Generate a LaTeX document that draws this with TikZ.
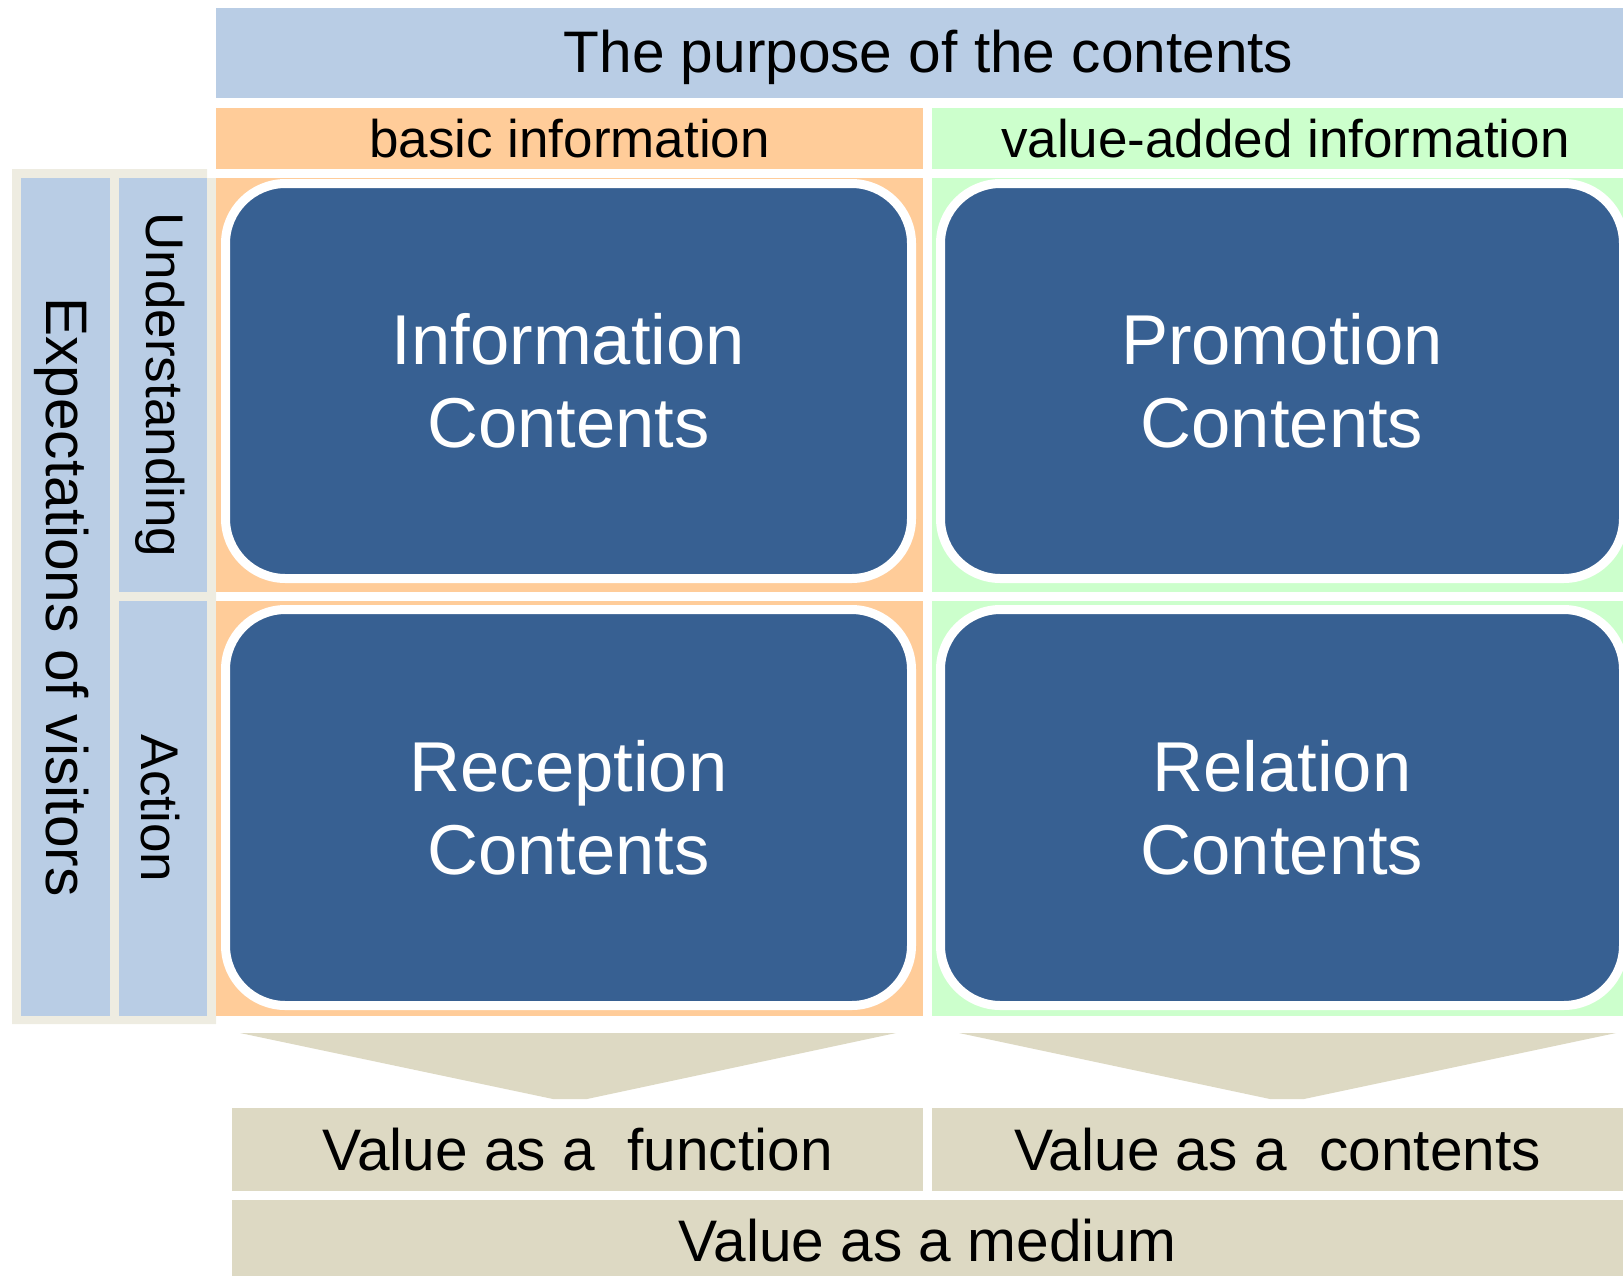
\documentclass[tikz,border=0pt]{standalone}
\usepackage{fontspec}
\setmainfont{Liberation Sans}
\usepackage{tikz}

\definecolor{bleuclair}{HTML}{B9CDE5}
\definecolor{saumon}{HTML}{FFCC99}
\definecolor{vertclair}{HTML}{CCFFCC}
\definecolor{bleufonce}{HTML}{376092}
\definecolor{sable}{HTML}{DDD9C3}
\definecolor{cadre}{HTML}{EEECE1}

\begin{document}
\begin{tikzpicture}[x=0.5pt,y=-0.5pt,
	case/.style={rectangle,inner sep=0pt},
	grand/.style={font=\fontsize{29.3}{34}\selectfont},
	petit/.style={font=\fontsize{26.5}{31}\selectfont},
	bloc/.style={rectangle,rounded corners=30pt,fill=bleufonce,draw=white,line width=4.5pt,
		text=white,align=center,inner sep=0pt,font=\fontsize{35.3}{41.5}\selectfont}]
	\useasboundingbox (0,0) rectangle (1623,1276);
	% en-tetes
	\node (T) at (919.5,53) [case,fill=bleuclair,minimum width=703.5pt,minimum height=45pt] {};
	\node (Tt) at (928.5,57) [grand] {The purpose of the contents};
	\node (B) at (569.5,138.5) [case,petit,fill=saumon,minimum width=353.5pt,minimum height=30.5pt] {basic information};
	\node (V) at (1277.5,138.5) [case,fill=vertclair,minimum width=345.5pt,minimum height=30.5pt] {};
	\node (Vt) at (1285.5,138.5) [petit] {value-added information};
	% colonne de gauche
	\fill[cadre] (12,169) -- (207,169) -- (207,178) -- (216,178) -- (216,1024) -- (12,1024) -- cycle;
	\node (E) at (65.5,597) [case,fill=bleuclair,minimum width=44.5pt,minimum height=419pt] {};
	\node (Et) at (61.5,597) [rotate=-90,grand] {Expectations of visitors};
	\node (U) at (163,385) [case,fill=bleuclair,minimum width=44pt,minimum height=207pt] {};
	\node (Ut) at (160,385) [rotate=-90,petit] {Understanding};
	\node (A) at (163,808.5) [case,fill=bleuclair,minimum width=44pt,minimum height=207.5pt] {};
	\node (At) at (160,808.5) [rotate=-90,petit] {Action};
	% cases et blocs
	\node (C1) at (569.5,385) [case,fill=saumon,minimum width=353.5pt,minimum height=207pt] {};
	\node (C2) at (569.5,808.5) [case,fill=saumon,minimum width=353.5pt,minimum height=207.5pt] {};
	\node (C3) at (1277.5,385) [case,fill=vertclair,minimum width=345.5pt,minimum height=207pt] {};
	\node (C4) at (1277.5,808.5) [case,fill=vertclair,minimum width=345.5pt,minimum height=207.5pt] {};
	\node (I) at (568.5,381) [bloc,minimum width=343pt,minimum height=197.5pt] {Information\\Contents};
	\node (R) at (568.5,807.5) [bloc,minimum width=343pt,minimum height=198pt] {Reception\\Contents};
	\node (P) at (1282,381) [bloc,minimum width=341.5pt,minimum height=197.5pt] {Promotion\\Contents};
	\node (L) at (1282,807.5) [bloc,minimum width=341.5pt,minimum height=198pt] {Relation\\Contents};
	% fleches vers le bas
	\fill[sable] (240,1033) -- (896,1033) -- (587,1099) -- (553,1099) -- cycle;
	\fill[sable] (959,1033) -- (1616,1033) -- (1304,1099) -- (1270,1099) -- cycle;
	% valeurs
	\node (F) at (577.5,1149.5) [case,grand,fill=sable,minimum width=345.5pt,minimum height=41.5pt] {Value as a~ function};
	\node (K) at (1277.5,1149.5) [case,grand,fill=sable,minimum width=345.5pt,minimum height=41.5pt] {Value as a~ contents};
	\node (M) at (927.5,1238) [case,fill=sable,minimum width=695.5pt,minimum height=38pt] {};
	\node (Mt) at (927.5,1241) [grand] {Value as a medium};
\end{tikzpicture}
\end{document}
